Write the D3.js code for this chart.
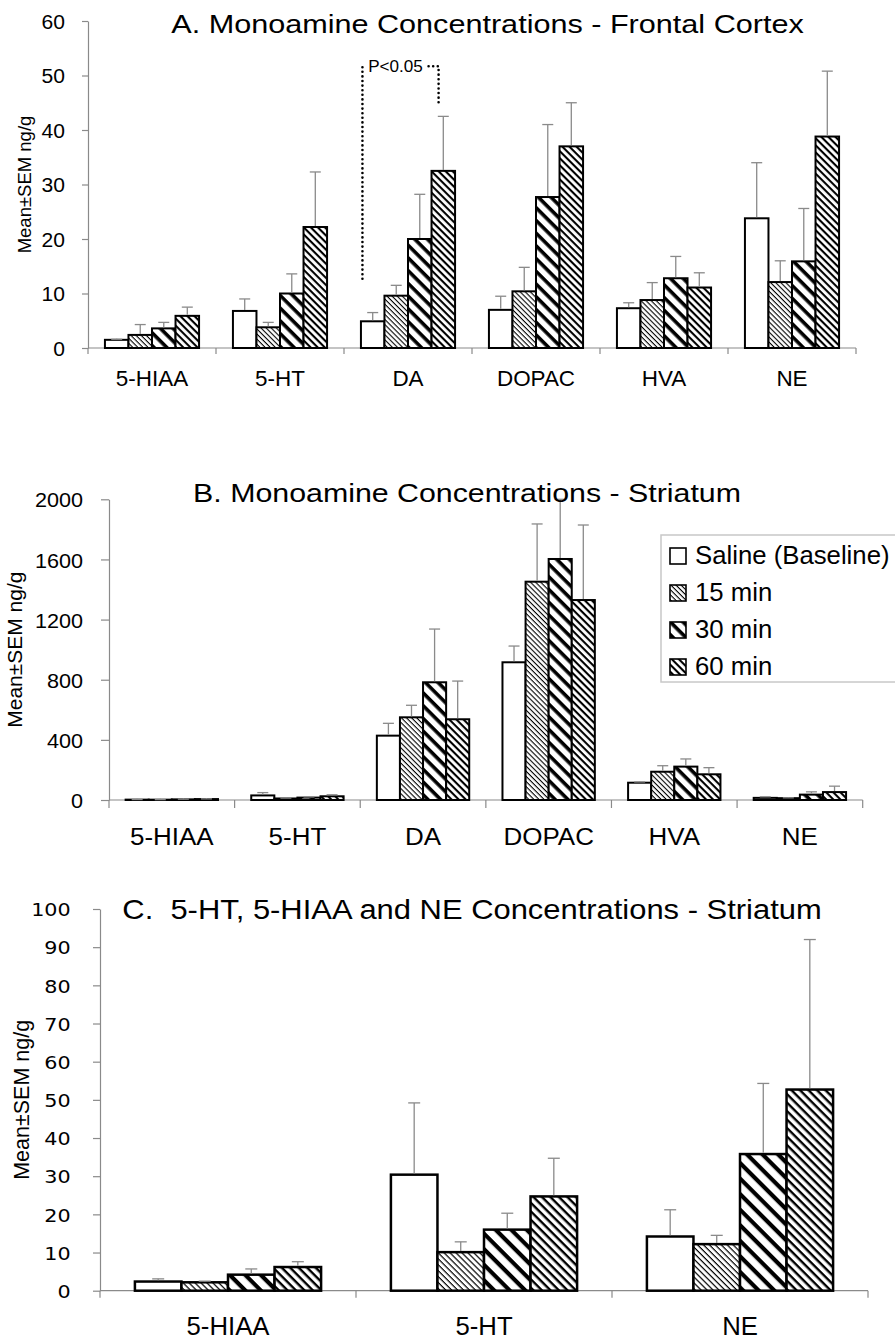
<!DOCTYPE html>
<html>
<head>
<meta charset="utf-8">
<script src="https://cdn.jsdelivr.net/npm/d3@7"></script>
<style>
  body { margin: 0; background: #fff; }
  text { font-family: "Liberation Sans", Arial, sans-serif; fill: #000; }
</style>
</head>
<body>
<div id="chart"></div>
<script>
const series = ["Saline (Baseline)", "15 min", "30 min", "60 min"];
const categoriesAB = ["5-HIAA", "5-HT", "DA", "DOPAC", "HVA", "NE"];
const categoriesC = ["5-HIAA", "5-HT", "NE"];

// A. frontal cortex, one row per category, one value per series
const frontalMean = [[1.5, 2.4, 3.6, 5.9], [6.8, 3.8, 10.0, 22.2], [4.9, 9.6, 20.0, 32.5],
  [7.0, 10.4, 27.7, 37.0], [7.3, 8.8, 12.8, 11.1], [23.8, 12.1, 15.9, 38.8]];
const frontalSem = [[0.1, 1.9, 1.1, 1.6], [2.2, 0.9, 3.6, 10.1], [1.6, 1.9, 8.2, 10.0],
  [2.5, 4.4, 13.3, 8.0], [1.0, 3.2, 4.0, 2.7], [10.2, 3.9, 9.7, 12.0]];

// B. striatum, all six
const striatumMean = [[2.4, 2.2, 4.2, 6.2], [30.4, 10.1, 16.0, 24.7], [428, 550, 783, 537],
  [916, 1452, 1603, 1330], [115, 188, 222, 171], [14.2, 12.2, 35.8, 52.7]];
const striatumSem = [[0.7, 0.3, 1.5, 1.4], [18.8, 2.7, 4.3, 10.0], [82, 80, 354, 254],
  [108, 384, 397, 499], [5, 40, 51, 44], [7.0, 2.3, 18.5, 39.3]];

// C. striatum, small ones
const smallMean = [[2.4, 2.2, 4.2, 6.2], [30.4, 10.1, 16.0, 24.7], [14.2, 12.2, 35.8, 52.7]];
const smallSem = [[0.7, 0.3, 1.5, 1.4], [18.8, 2.7, 4.3, 10.0], [7.0, 2.3, 18.5, 39.3]];

const ticksA = [0, 10, 20, 30, 40, 50, 60];
const ticksB = [0, 400, 800, 1200, 1600, 2000];
const ticksC = [0, 10, 20, 30, 40, 50, 60, 70, 80, 90, 100];

const W = 895, H = 1341;
const axisColor = "#8a8a8a";

const svg = d3.select("#chart").append("svg")
  .attr("width", W).attr("height", H)
  .style("display", "block");
svg.append("rect").attr("width", W).attr("height", H).attr("fill", "#fff");

const defs = svg.append("defs");

// diagonal "\" hatch
function hatch(id, period, thick) {
  const p = defs.append("pattern")
    .attr("id", id)
    .attr("patternUnits", "userSpaceOnUse")
    .attr("width", period).attr("height", period)
    .attr("patternTransform", "rotate(45)");
  p.append("rect").attr("width", period).attr("height", period).attr("fill", "#fff");
  p.append("rect").attr("width", period).attr("height", thick).attr("fill", "#000");
}
hatch("h15", 3.6, 1.1);
hatch("h30", 9, 3.6);
hatch("h60", 5, 2.1);
hatch("c15", 4.2, 1.2);
hatch("c30", 11, 4.2);
hatch("c60", 6, 2.4);

function fills(prefix) {
  return ["#fff", `url(#${prefix}15)`, `url(#${prefix}30)`, `url(#${prefix}60)`];
}

function label(g, x, y, str, size, sx, anchor, family) {
  const t = g.append("text")
    .attr("transform", `translate(${x},${y}) scale(${sx},1)`)
    .attr("text-anchor", anchor || "middle")
    .style("font-size", size + "px")
    .style("white-space", "pre")
    .text(str);
  if (family) t.style("font-family", family);
  return t;
}

function panel(o) {
  const g = svg.append("g");
  const x = d3.scaleBand().domain(o.categories).range(o.xRange).padding(0);
  const inner = d3.scaleBand().domain(series).range([0, x.bandwidth()])
    .paddingInner(0).paddingOuter(o.outer);
  const y = d3.scaleLinear().domain([0, o.ticks[o.ticks.length - 1]]).range(o.yRange);
  const f = fills(o.pat);

  const rows = [];
  o.categories.forEach((c, i) => series.forEach((s, j) => {
    rows.push({cat: c, s, j, v: o.mean[i][j], e: o.sem[i][j]});
  }));

  // y axis
  const ya = g.append("g")
    .attr("transform", `translate(${o.xRange[0]},0)`)
    .call(d3.axisLeft(y).tickValues(o.ticks).tickFormat(d3.format("d"))
      .tickSizeInner(o.tickLen).tickSizeOuter(0));
  ya.select(".domain").attr("stroke", axisColor).attr("stroke-width", 1.2);
  ya.selectAll(".tick line").attr("stroke", axisColor).attr("stroke-width", 1.2);
  ya.selectAll(".tick text")
    .attr("x", 0).attr("dy", "0.36em")
    .attr("transform", `translate(${-o.tickPad},0) scale(${o.tickSx},1)`)
    .style("font-size", o.tickSize + "px")
    .style("font-family", o.tickFont || null)
    .attr("fill", "#000");

  // x axis: line + boundary ticks
  const y0 = y(0);
  g.append("line")
    .attr("x1", o.xRange[0]).attr("x2", o.xRange[1])
    .attr("y1", y0).attr("y2", y0)
    .attr("stroke", axisColor).attr("stroke-width", 1.2);
  const bounds = o.categories.map(c => x(c)).concat([o.xRange[1]]);
  g.selectAll(".bt").data(bounds).join("line")
    .attr("x1", d => d).attr("x2", d => d)
    .attr("y1", y0).attr("y2", y0 + o.tickLen)
    .attr("stroke", axisColor).attr("stroke-width", 1.2);
  o.categories.forEach(c => {
    label(g, x(c) + x.bandwidth() / 2, o.catY, c, o.catSize, o.catSx);
  });

  // bars
  g.append("g").selectAll("rect").data(rows).join("rect")
    .attr("x", d => x(d.cat) + inner(d.s))
    .attr("y", d => y(d.v))
    .attr("width", inner.bandwidth())
    .attr("height", d => y0 - y(d.v))
    .attr("fill", d => f[d.j])
    .attr("stroke", "#000")
    .attr("stroke-width", o.barStroke);

  // error bars (upper only)
  const eb = g.append("g").attr("stroke", axisColor).attr("stroke-width", 1.3);
  eb.selectAll(".v").data(rows).join("line")
    .attr("x1", d => x(d.cat) + inner(d.s) + inner.bandwidth() / 2)
    .attr("x2", d => x(d.cat) + inner(d.s) + inner.bandwidth() / 2)
    .attr("y1", d => y(d.v) - o.barStroke / 2)
    .attr("y2", d => y(d.v + d.e));
  eb.selectAll(".c").data(rows).join("line")
    .attr("x1", d => x(d.cat) + inner(d.s) + inner.bandwidth() / 2 - o.cap / 2)
    .attr("x2", d => x(d.cat) + inner(d.s) + inner.bandwidth() / 2 + o.cap / 2)
    .attr("y1", d => y(d.v + d.e))
    .attr("y2", d => y(d.v + d.e));

  // title + y label
  label(g, o.title.x, o.title.y, o.title.text, o.title.size, o.title.sx);
  g.append("text")
    .attr("transform", `translate(${o.ylab.x},${(o.yRange[0] + o.yRange[1]) / 2}) rotate(-90)`)
    .attr("text-anchor", "middle")
    .attr("dy", "0.35em")
    .style("font-size", o.ylab.size + "px")
    .text("Mean±SEM ng/g");

  return {g, x, inner, y};
}

const A = panel({
  categories: categoriesAB, mean: frontalMean, sem: frontalSem, ticks: ticksA,
  xRange: [88, 856], yRange: [348, 21], outer: 0.72, pat: "h",
  tickLen: 6, tickPad: 23, tickSize: 19.5, tickSx: 1.08,
  catY: 385.5, catSize: 22, catSx: 1.02,
  barStroke: 2, cap: 11,
  title: {x: 487.5, y: 33, text: "A. Monoamine Concentrations - Frontal Cortex", size: 25.5, sx: 1.2},
  ylab: {x: 25, size: 18.5}
});

const B = panel({
  categories: categoriesAB, mean: striatumMean, sem: striatumSem, ticks: ticksB,
  xRange: [109, 862.7], yRange: [800, 499.3], outer: 0.72, pat: "h",
  tickLen: 8, tickPad: 26, tickSize: 21, tickSx: 1.03,
  catY: 845, catSize: 23, catSx: 1.13,
  barStroke: 2, cap: 11,
  title: {x: 467, y: 501.5, text: "B. Monoamine Concentrations - Striatum", size: 25.5, sx: 1.19},
  ylab: {x: 15, size: 21}
});

const C = panel({
  categories: categoriesC, mean: smallMean, sem: smallSem, ticks: ticksC,
  xRange: [100, 868], yRange: [1290.7, 909], outer: 0.75, pat: "c",
  tickLen: 7, tickPad: 29.3, tickSize: 18.5, tickSx: 1.12, tickFont: "DejaVu Sans",
  catY: 1335, catSize: 25, catSx: 1.03,
  barStroke: 2.5, cap: 12,
  title: {x: 472, y: 919, text: "C.  5-HT, 5-HIAA and NE Concentrations - Striatum", size: 27.5, sx: 1.125},
  ylab: {x: 21, size: 21.5}
});

// significance bracket, panel A, DA saline vs 60 min
const sig = {cat: "DA", from: series[0], to: series[3], low: 12.7, top: 51.7, end: 45, text: "P<0.05"};
const xl = A.x(sig.cat) + A.inner(sig.from) + 1.5;
const xr = A.x(sig.cat) + A.inner(sig.to) + A.inner.bandwidth() * 0.3;
const yt = A.y(sig.top);
const dotted = g => g.attr("fill", "none").attr("stroke", "#000")
  .attr("stroke-width", 2.6).attr("stroke-linecap", "round").attr("stroke-dasharray", "0,4.6");
A.g.append("path")
  .attr("d", `M${xl},${A.y(sig.low)}V${yt}H${xl + 3}`)
  .call(dotted);
A.g.append("path")
  .attr("d", `M${xr - 10},${yt}H${xr}V${A.y(sig.end)}`)
  .call(dotted);
label(A.g, (xl + xr) / 2 - 5, yt + 6, sig.text, 16, 1.07);

// legend (panel B)
const lg = svg.append("g");
lg.append("rect")
  .attr("x", 661).attr("y", 535).attr("width", 260).attr("height", 147)
  .attr("fill", "#fff").attr("stroke", "#c8c8c8").attr("stroke-width", 1.5);
const lf = fills("h");
series.forEach((s, i) => {
  const by = 564 + i * 37;
  lg.append("rect")
    .attr("x", 670).attr("y", by - 16).attr("width", 16).attr("height", 16)
    .attr("fill", lf[i]).attr("stroke", "#000").attr("stroke-width", 1.6);
  label(lg, 695, by, s, 25, 1.03, "start");
});
</script>
</body>
</html>
